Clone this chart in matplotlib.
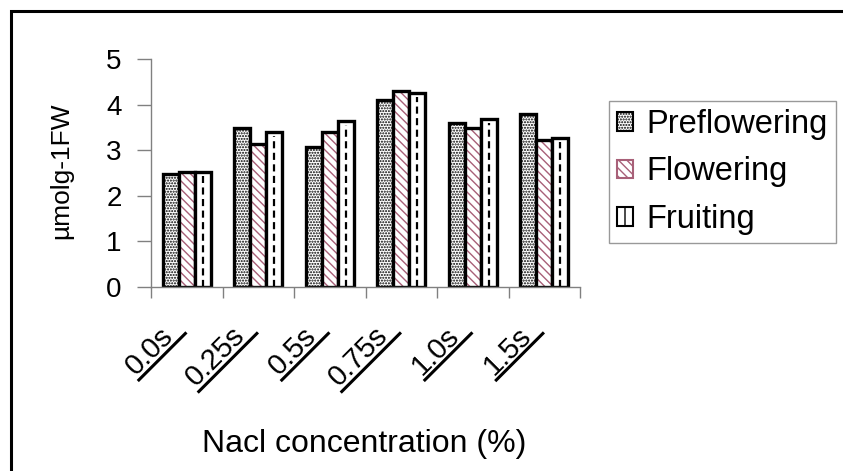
import numpy as np
import matplotlib
matplotlib.use("Agg")
import matplotlib.pyplot as plt
import matplotlib.transforms as mtransforms
from matplotlib.patches import Rectangle, Patch
from matplotlib.lines import Line2D

plt.rcParams['font.family'] = ['Liberation Sans', 'DejaVu Sans']
plt.rcParams['hatch.linewidth'] = 1.0

categories = ["0.0s", "0.25s", "0.5s", "0.75s", "1.0s", "1.5s"]
preflowering = [2.48, 3.49, 3.07, 4.10, 3.59, 3.79]
flowering = [2.52, 3.14, 3.40, 4.30, 3.49, 3.22]
fruiting = [2.52, 3.40, 3.64, 4.25, 3.68, 3.27]
series_names = ["Preflowering", "Flowering", "Fruiting"]

W, H = 843, 471
fig = plt.figure(figsize=(W / 100, H / 100), dpi=100)
ax = fig.add_axes([151 / W, 1 - 287 / H, (580 - 151) / W, (287 - 59) / H])

x = np.arange(len(categories))
bw = 0.225
edge_lw = 2.4

# preflowering: dotted fill
ax.bar(x - bw, preflowering, bw, color="white", edgecolor="black",
       hatch="......", linewidth=0)
ax.bar(x - bw, preflowering, bw, fill=False, edgecolor="black", linewidth=edge_lw)

# flowering: pink diagonal hatch
ax.bar(x, flowering, bw, color="white", edgecolor="#a86078",
       hatch="\\\\\\\\", linewidth=0)
ax.bar(x, flowering, bw, fill=False, edgecolor="black", linewidth=edge_lw)

# fruiting: white with a dashed line down the middle
ax.bar(x + bw, fruiting, bw, color="white", edgecolor="black", linewidth=edge_lw)
ax.vlines(x + bw, 0, np.array(fruiting) - 0.08, colors="black", linewidth=1.6,
          linestyles=(0, (3.2, 2.0)))

ax.set_xlim(-0.5, len(categories) - 0.5)
ax.set_ylim(0, 5)
ax.set_yticks(range(6))
ax.tick_params(axis="y", labelsize=20, length=10, width=1, color="#808080", pad=11)
ax.set_xticks(np.arange(len(categories) + 1) - 0.5)
ax.set_xticklabels([])
ax.tick_params(axis="x", length=8, width=1, color="#808080", direction="out")
for s in ["top", "right"]:
    ax.spines[s].set_visible(False)
for s in ["left", "bottom"]:
    ax.spines[s].set_color("#808080")
    ax.spines[s].set_linewidth(1)

ax.set_ylabel("µmolg-1FW", fontsize=19)
ax.yaxis.set_label_coords(-78 / 429, 0.51)

# rotated, underlined category labels
renderer = fig.canvas.get_renderer()
blend = mtransforms.blended_transform_factory(ax.transData, ax.transAxes)
ang = np.deg2rad(45)
ox, oy = -12, -50
for xi, lab in zip(x, categories):
    off = mtransforms.ScaledTranslation(ox / 100, oy / 100, fig.dpi_scale_trans)
    t = ax.text(xi, 0, lab, transform=blend + off, rotation=45,
                rotation_mode="anchor", ha="right", va="baseline", fontsize=21,
                clip_on=False)
    w, h, d = renderer.get_text_width_height_descent(lab, t.get_fontproperties(), ismath=False)
    us = np.array([-w - 1, 10])
    v = -5
    px = us * np.cos(ang) - v * np.sin(ang) + ox
    py = us * np.sin(ang) + v * np.cos(ang) + oy
    ltrans = fig.dpi_scale_trans + mtransforms.ScaledTranslation(xi, 0, blend)
    ax.add_line(Line2D(px / 100, py / 100, transform=ltrans, color="black",
                       linewidth=2.2, clip_on=False))

fig.text(364 / W, 1 - 444 / H, "Nacl concentration (%)", fontsize=23,
         ha="center", va="center")

handles = [
    Patch(facecolor="white", edgecolor="black", hatch="......", linewidth=1.5),
    Patch(facecolor="white", edgecolor="#a86078", hatch="\\\\\\\\", linewidth=1.5),
    Patch(facecolor="white", edgecolor="black", hatch="|", linewidth=1.5),
]
leg = fig.legend(handles, series_names, loc="upper left",
                 bbox_to_anchor=(609 / W, 1 - 101 / H), fontsize=23.5,
                 frameon=True, fancybox=False, handlelength=0.5,
                 handleheight=0.5, handletextpad=0.4, labelspacing=0.5,
                 borderpad=0.25, borderaxespad=0)
leg.get_frame().set_edgecolor("#808080")
leg.get_frame().set_linewidth(1.0)

# outer frame around the whole chart
fig.patches.append(Rectangle((11 / W, -0.1), 1.2, 1 - 11 / H + 0.1,
                             transform=fig.transFigure, fill=False,
                             edgecolor="black", linewidth=2.2))

fig.savefig("out.png", dpi=100)
